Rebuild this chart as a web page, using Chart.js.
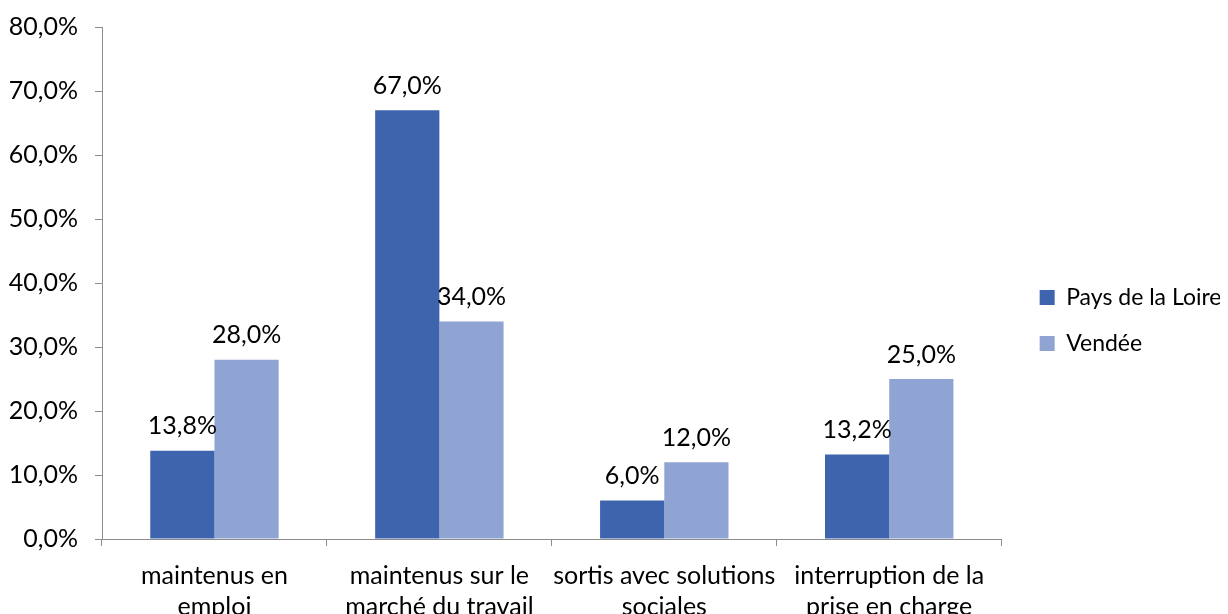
<!DOCTYPE html>
<html>
<head>
<meta charset="utf-8">
<script src="https://cdn.jsdelivr.net/npm/chart.js@4/dist/chart.umd.min.js"></script>
<style>
    html, body { margin: 0; padding: 0; background: #fff; overflow: hidden; }
    #wrap { width: 1228px; height: 614px; position: relative; }
</style>
</head>
<body>
<div id="wrap"><canvas id="chart"></canvas></div>
<script>
const categories = [
    ['maintenus en', 'emploi'],
    ['maintenus sur le', 'marché du travail'],
    ['sortis avec solutions', 'sociales'],
    ['interruption de la', 'prise en charge']
];
const paysDeLaLoire = [13.8, 67.0, 6.0, 13.2];
const vendee = [28.0, 34.0, 12.0, 25.0];
const yTicks = [0, 10, 20, 30, 40, 50, 60, 70, 80];

const fontFamily = 'Lato, "Open Sans", sans-serif';
const fmt = v => v.toFixed(1).replace('.', ',') + '%';

// value labels above each bar
const barLabels = {
    id: 'barLabels',
    afterDatasetsDraw(chart) {
        const ctx = chart.ctx;
        ctx.save();
        ctx.font = '25px ' + fontFamily;
        ctx.fillStyle = '#000';
        ctx.textAlign = 'center';
        ctx.textBaseline = 'bottom';
        chart.data.datasets.forEach((ds, i) => {
            chart.getDatasetMeta(i).data.forEach((bar, j) => {
                ctx.fillText(fmt(ds.data[j]), bar.x, bar.y - 12);
            });
        });
        ctx.restore();
    }
};

new Chart(document.getElementById('chart'), {
    type: 'bar',
    data: {
        labels: categories,
        datasets: [
            {
                label: 'Pays de la Loire',
                data: paysDeLaLoire,
                backgroundColor: '#3D64AC',
                borderWidth: 0
            },
            {
                label: 'Vendée',
                data: vendee,
                backgroundColor: '#90A4D4',
                borderWidth: 0
            }
        ]
    },
    options: {
        responsive: true,
        maintainAspectRatio: false,
        animation: false,
        layout: { padding: { top: 27, right: 8, left: 0, bottom: 0 } },
        datasets: {
            bar: { categoryPercentage: 0.571, barPercentage: 1.0 }
        },
        scales: {
            y: {
                min: 0,
                max: 80,
                afterBuildTicks: scale => { scale.ticks = yTicks.map(v => ({ value: v })); },
                afterFit: scale => {
                    scale.width = 102;
                    scale.paddingTop = 0;
                    scale.paddingBottom = 0;
                },
                border: { display: true, color: '#8c8c8c', width: 1 },
                grid: { drawOnChartArea: false, drawTicks: true, tickLength: 7, color: '#8c8c8c' },
                ticks: {
                    padding: 17,
                    color: '#000',
                    font: { family: fontFamily, size: 25 },
                    callback: v => fmt(v)
                }
            },
            // empty spacer between the plot and the legend
            gap: {
                position: 'right',
                min: 0,
                max: 1,
                afterFit: scale => { scale.width = 15; },
                border: { display: false },
                grid: { display: false },
                ticks: { display: false }
            },
            x: {
                // labels overflow the canvas bottom and get cut, like the original
                afterFit: scale => { scale.height = 75; },
                border: { display: true, color: '#8c8c8c', width: 1 },
                grid: { offset: true, drawOnChartArea: false, drawTicks: true, tickLength: 7, color: '#8c8c8c' },
                ticks: {
                    autoSkip: false,
                    padding: 14,
                    color: '#000',
                    maxRotation: 0,
                    minRotation: 0,
                    font: { family: fontFamily, size: 25, lineHeight: 1.25 }
                }
            }
        },
        plugins: {
            legend: {
                position: 'right',
                align: 'center',
                labels: {
                    boxWidth: 15,
                    boxHeight: 15,
                    padding: 23,
                    color: '#000',
                    font: { family: fontFamily, size: 23 }
                }
            },
            tooltip: { enabled: false }
        }
    },
    plugins: [barLabels]
});
</script>
</body>
</html>
